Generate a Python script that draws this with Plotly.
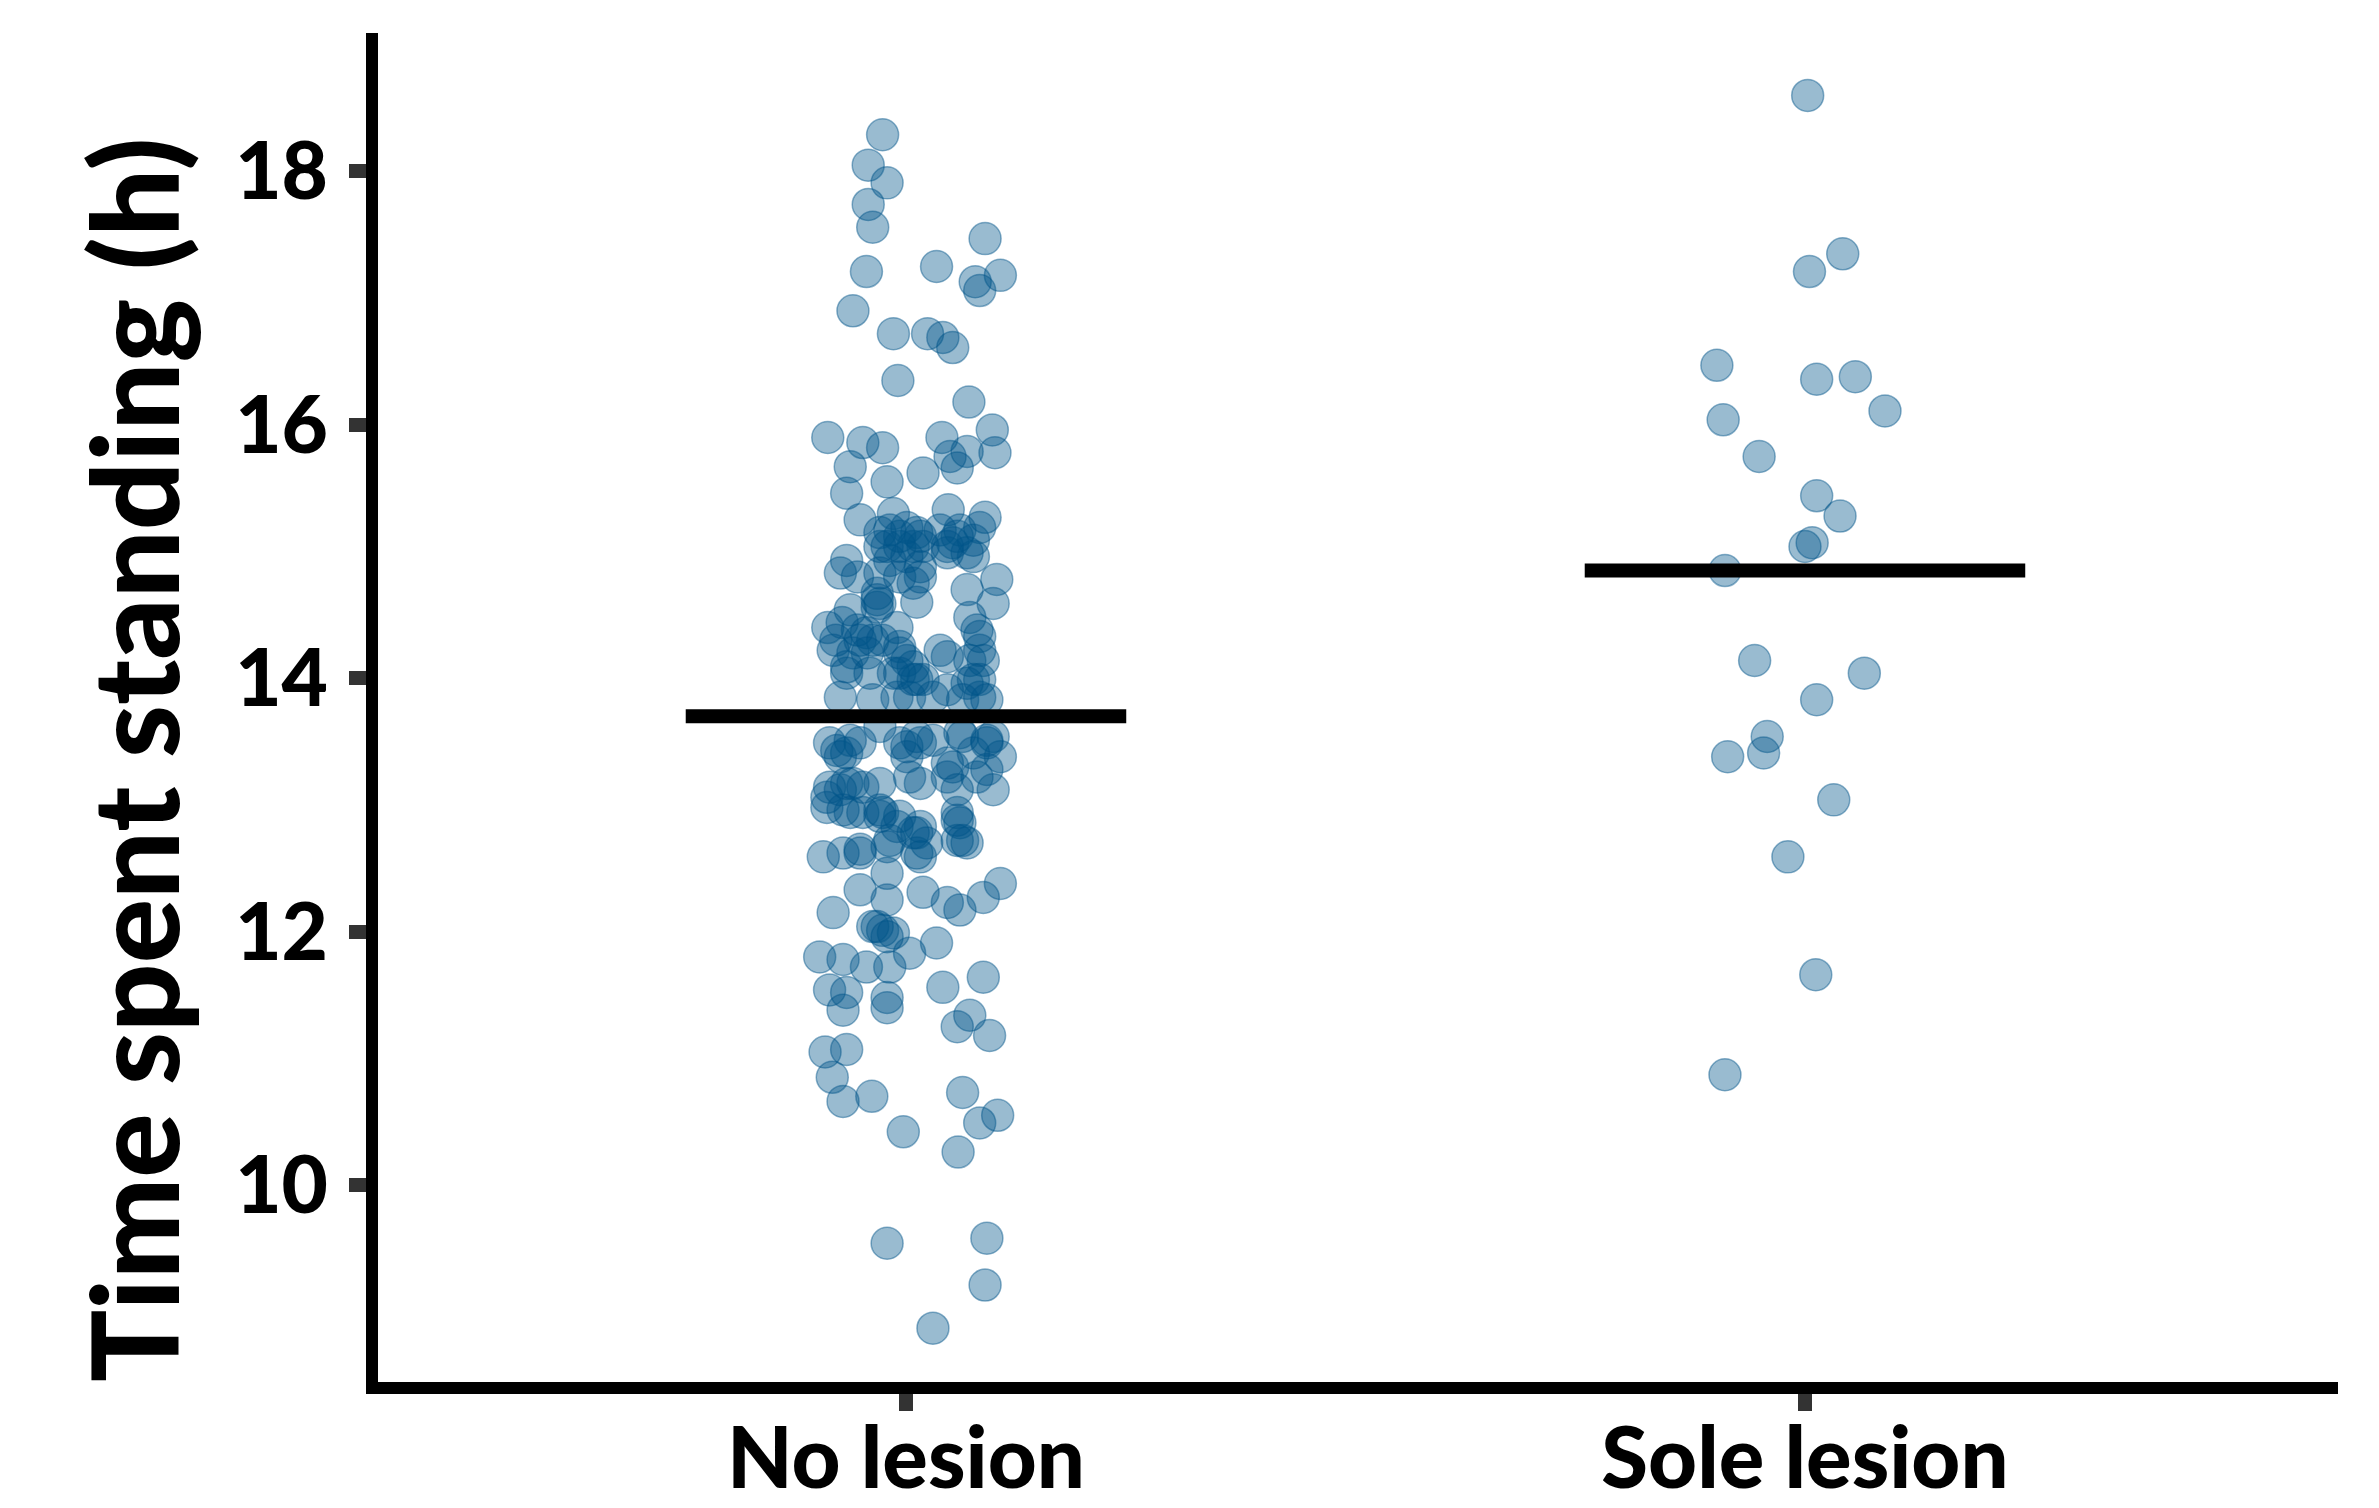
import plotly.graph_objects as go

categories = ["No lesion", "Sole lesion"]
cat_pos = [1, 2]

no_lesion_x = [0.974, 0.958, 0.979, 0.958, 0.963, 1.088, 1.034, 0.956, 1.105, 1.077,
               1.082, 0.941, 0.986, 1.024, 1.041, 1.052, 0.991, 1.070, 0.913, 0.952,
               0.974, 1.040, 1.096, 1.099, 1.068, 1.049, 1.057, 1.019, 0.938, 0.979,
               0.934, 0.949, 0.986, 0.971, 1.047, 1.088, 1.082, 1.060, 1.038, 1.012,
               0.993, 0.979, 1.019, 1.052, 1.068, 1.075, 1.046, 0.934, 0.927, 0.946,
               0.982, 1.001, 1.016, 0.971, 1.068, 1.101, 1.097, 1.012, 0.968, 0.968,
               0.938, 1.071, 1.082, 0.913, 0.929, 0.956, 0.990, 0.922, 0.941, 0.963,
               0.993, 1.008, 1.038, 1.046, 1.071, 1.086, 0.934, 0.960, 0.986, 1.019,
               1.068, 1.082, 0.927, 0.963, 0.990, 1.030, 1.082, 0.915, 0.934, 0.949,
               0.993, 1.001, 1.016, 1.063, 1.097, 1.105, 1.052, 1.016, 1.097, 1.079,
               0.915, 0.912, 0.934, 0.971, 0.930, 0.952, 0.974, 0.993, 1.016, 1.057,
               1.060, 1.057, 1.068, 1.023, 1.012, 0.982, 0.908, 0.930, 0.949, 0.979,
               0.949, 0.979, 1.019, 1.046, 1.060, 1.086, 1.105, 0.919, 0.963, 0.974,
               0.986, 1.004, 1.034, 0.904, 0.930, 0.956, 0.982, 1.086, 1.041, 0.915,
               0.934, 0.979, 0.930, 0.979, 1.071, 1.057, 1.093, 0.910, 0.934, 0.918,
               0.930, 0.962, 0.997, 1.063, 1.082, 1.102, 1.058, 0.979, 1.090, 1.088,
               1.030,
               0.982, 1.008, 1.057, 0.968, 0.993, 1.001, 1.008, 0.946, 0.923, 1.001,
               0.927, 0.971, 1.008, 1.057, 0.968, 1.090, 0.952, 0.990,
               1.001, 1.016, 0.993, 0.971, 1.075, 1.046, 0.993, 1.016, 1.008, 0.971,
               1.079, 0.949, 0.974, 0.919, 0.934, 0.957, 0.993, 1.012, 1.082, 1.075,
               1.046, 1.004, 1.063, 1.090, 0.938, 0.927, 0.971, 1.012, 1.030, 1.060,
               1.090, 1.046, 1.075, 0.941, 1.004, 1.046, 1.057, 1.090, 0.912, 0.938,
               0.971, 1.012, 1.063, 0.949, 0.979, 1.016, 0.979]
no_lesion_y = [18.29, 18.05, 17.91, 17.74, 17.56, 17.47, 17.25, 17.21, 17.18, 17.13,
               17.06, 16.90, 16.72, 16.72, 16.69, 16.61, 16.35, 16.18, 15.90, 15.86,
               15.82, 15.90, 15.96, 15.78, 15.79, 15.75, 15.66, 15.62, 15.67, 15.55,
               15.46, 15.25, 15.30, 15.15, 15.33, 15.27, 15.19, 15.17, 15.17, 15.15,
               15.12, 15.04, 15.04, 15.07, 14.99, 14.96, 14.99, 14.93, 14.83, 14.80,
               14.93, 14.96, 14.80, 14.83, 14.70, 14.78, 14.59, 14.60, 14.67, 14.56,
               14.54, 14.48, 14.33, 14.40, 14.44, 14.36, 14.40, 14.30, 14.20, 14.30,
               14.20, 14.09, 14.22, 14.17, 14.14, 14.14, 14.04, 14.04, 14.04, 13.99,
               13.96, 13.99, 13.85, 13.83, 13.85, 13.85, 13.85, 13.49, 13.41, 13.49,
               13.49, 13.38, 13.49, 13.54, 13.54, 13.38, 13.30, 13.17, 13.12, 13.22,
               13.14, 13.06, 13.17, 13.17, 12.96, 12.94, 12.94, 12.91, 12.83, 12.94,
               12.86, 12.72, 12.70, 12.70, 12.62, 12.72, 12.59, 12.62, 12.62, 12.46,
               12.33, 12.25, 12.31, 12.23, 12.17, 12.27, 12.38, 12.15, 12.04, 12.01,
               11.99, 11.83, 11.91, 11.80, 11.78, 11.72, 11.72, 11.64, 11.56, 11.54,
               11.52, 11.48, 11.38, 11.40, 11.34, 11.25, 11.18, 11.05, 11.07, 10.85,
               10.66, 10.70, 10.42, 10.73, 10.49, 10.55, 10.26, 9.54, 9.58, 9.21,
               8.87,
               15.17, 15.04, 15.12, 14.62, 14.25, 14.14, 13.99, 14.38, 13.43, 13.46,
               13.12, 12.91, 12.78, 12.88, 12.04, 13.49, 13.14, 12.83,
               15.19, 15.12, 15.04, 15.04, 15.09, 15.04, 14.80, 14.88, 14.75, 14.59,
               14.38, 14.30, 14.30, 14.22, 14.09, 14.20, 14.04, 13.99, 14.22, 13.99,
               13.91, 13.85, 13.83, 13.83, 13.51, 13.38, 13.62, 13.54, 13.51, 13.57,
               13.51, 13.33, 13.41, 13.17, 13.22, 13.22, 13.12, 13.28, 12.98, 12.94,
               12.96, 12.78, 12.72, 12.65, 12.67, 12.59, 11.96]

sole_lesion_x = [2.003, 2.042, 2.005, 1.902, 2.056, 2.013, 1.909, 2.089, 1.949, 2.013,
                 2.039, 2.000, 2.008, 1.911, 1.944, 2.066, 2.013, 1.958, 1.954, 1.914,
                 2.032, 1.981, 2.012, 1.911]
sole_lesion_y = [18.60, 17.35, 17.21, 16.47, 16.38, 16.36, 16.04, 16.11, 15.75, 15.44,
                 15.28, 15.04, 15.07, 14.85, 14.14, 14.04, 13.83, 13.54, 13.41, 13.38,
                 13.04, 12.59, 11.66, 10.87]

group_means = [13.70, 14.85]
mean_half_width = 0.245

y_ticks = [10, 12, 14, 16, 18]

point_fill = "rgba(0,84,138,0.40)"
point_edge = "rgba(0,84,138,0.45)"

fig = go.Figure()
for xs, ys in [(no_lesion_x, no_lesion_y), (sole_lesion_x, sole_lesion_y)]:
    fig.add_trace(go.Scatter(
        x=xs, y=ys, mode="markers",
        marker=dict(size=32, color=point_fill,
                    line=dict(color=point_edge, width=1.5)),
        showlegend=False, hoverinfo="skip"))

for pos, m in zip(cat_pos, group_means):
    fig.add_trace(go.Scatter(
        x=[pos - mean_half_width, pos + mean_half_width], y=[m, m],
        mode="lines", line=dict(color="black", width=14),
        showlegend=False, hoverinfo="skip"))

font_family = "Lato"
fig.update_layout(
    width=2363, height=1500,
    margin=dict(l=370, r=33, t=25, b=126),
    paper_bgcolor="white", plot_bgcolor="white",
    xaxis=dict(range=[0.4127, 2.5929], tickvals=cat_pos, ticktext=categories,
               automargin=False,
               showgrid=False, zeroline=False, showline=True, linecolor="black",
               linewidth=12, ticks="outside", ticklen=17, tickwidth=14,
               tickcolor="#333333", ticklabelstandoff=-25,
               tickfont=dict(family=font_family, size=85, color="black", weight=900)),
    yaxis=dict(range=[8.445, 19.093], tickvals=y_ticks, automargin=False,
               showgrid=False, zeroline=False, showline=True, linecolor="black",
               linewidth=12, ticks="outside", ticklen=17, tickwidth=14,
               tickcolor="#333333", ticklabelstandoff=5,
               tickfont=dict(family=font_family, size=80, color="black", weight=900)),
    annotations=[dict(text="Time spent standing (h)", textangle=-90,
                      xref="paper", yref="paper", x=-0.125, y=0.461,
                      xanchor="center", yanchor="middle", showarrow=False,
                      font=dict(family=font_family, size=120, color="black", weight=900))],
)

fig.write_html("out.html")
